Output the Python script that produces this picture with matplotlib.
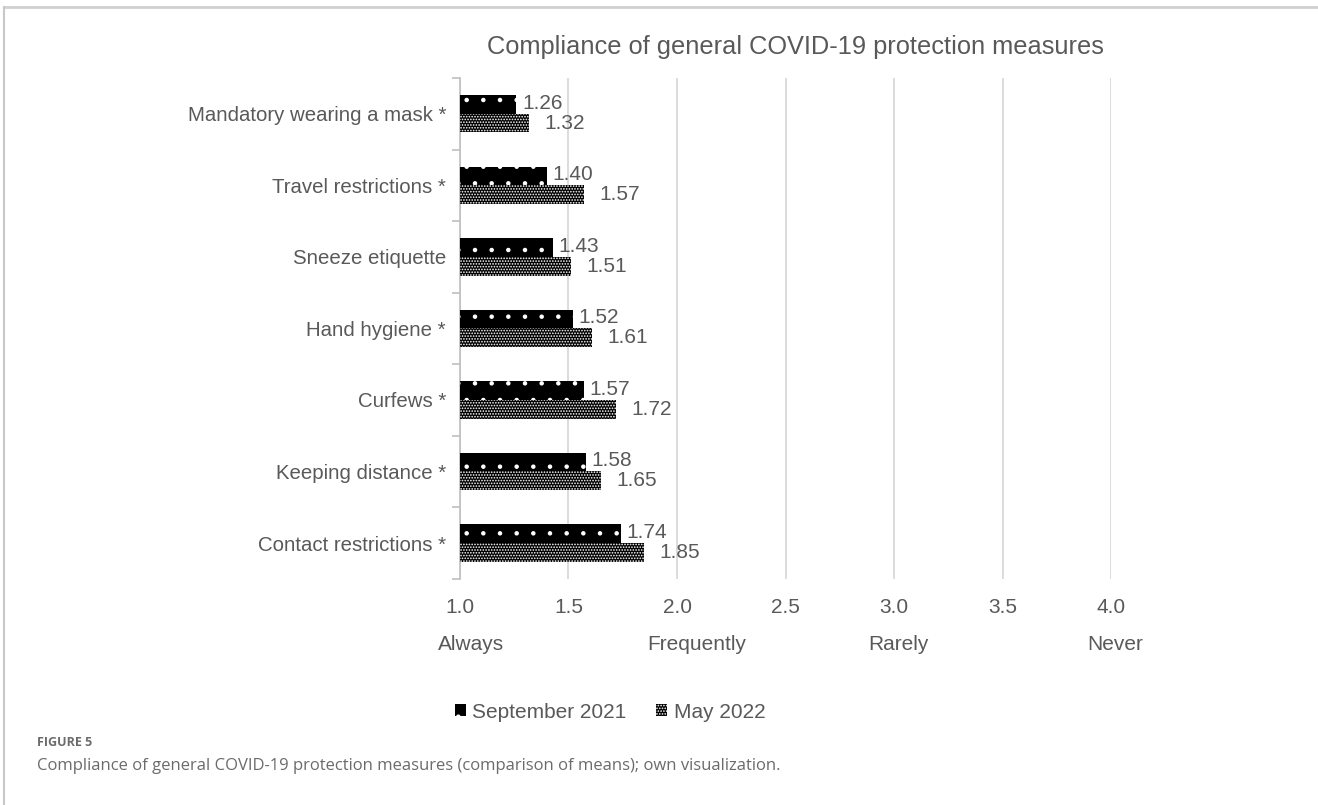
import matplotlib
matplotlib.use('Agg')
import matplotlib.pyplot as plt
import matplotlib.transforms as mtransforms
from matplotlib.lines import Line2D
from matplotlib.patches import Patch
import numpy as np

measures = ['Mandatory wearing a mask *', 'Travel restrictions *', 'Sneeze etiquette',
            'Hand hygiene *', 'Curfews *', 'Keeping distance *', 'Contact restrictions *']
sep_2021 = [1.26, 1.40, 1.43, 1.52, 1.57, 1.58, 1.74]
may_2022 = [1.32, 1.57, 1.51, 1.61, 1.72, 1.65, 1.85]
x_ticks = [1.0, 1.5, 2.0, 2.5, 3.0, 3.5, 4.0]
scale_pos = [1.05, 2.09, 3.02, 4.02]
scale_names = ['Always', 'Frequently', 'Rarely', 'Never']

TXT = '#595959'
GRID = '#d9d9d9'

plt.rcParams['font.family'] = ['Liberation Sans', 'DejaVu Sans']
plt.rcParams['hatch.linewidth'] = 0.8

fig = plt.figure(figsize=(13.18, 8.05), dpi=100)
ax = fig.add_axes([0.349, 0.281, 0.494, 0.622])

y = np.arange(len(measures))
h = 0.26
base = 1.0
ax.barh(y - h / 2, np.array(sep_2021) - base, left=base, height=h,
        color='black', edgecolor='white', linewidth=0, hatch='.', zorder=3)
ax.barh(y + h / 2, np.array(may_2022) - base, left=base, height=h,
        color='black', edgecolor='white', linewidth=0, hatch='......', zorder=3)

for yi, v in zip(y, sep_2021):
    ax.annotate(f'{v:.2f}', (v, yi - h / 2), xytext=(4, 1), textcoords='offset points',
                va='center', ha='left', fontsize=15, color=TXT)
for yi, v in zip(y, may_2022):
    ax.annotate(f'{v:.2f}', (v, yi + h / 2), xytext=(11, 0), textcoords='offset points',
                va='center', ha='left', fontsize=15, color=TXT)

ax.set_xlim(1.0, 4.0)
ax.set_ylim(len(measures) - 0.5, -0.5)
ax.set_xticks(x_ticks)
ax.set_xticklabels([f'{t:.1f}' for t in x_ticks], fontsize=15, color=TXT)
ax.set_yticks(y)
ax.set_yticklabels(measures, fontsize=14.7, color=TXT)
ax.set_yticks(np.arange(-0.5, len(measures)), minor=True)
ax.tick_params(axis='y', which='major', length=0, pad=10)
ax.tick_params(axis='y', which='minor', length=6, color='#bfbfbf', width=1.2)
ax.tick_params(axis='x', length=0, pad=14)
ax.grid(axis='x', color=GRID, linewidth=1.3, zorder=0)
for s in ['top', 'right', 'bottom']:
    ax.spines[s].set_visible(False)
ax.spines['left'].set_color('#bfbfbf')
ax.spines['left'].set_linewidth(1.2)

trans = mtransforms.blended_transform_factory(ax.transData, fig.transFigure)
for xp, name in zip(scale_pos, scale_names):
    fig.text(xp, 1 - 645 / 805, name, transform=trans, ha='center', va='center',
             fontsize=15, color=TXT)

fig.text(795 / 1318, 1 - 47 / 805, 'Compliance of general COVID-19 protection measures',
         ha='center', va='center', fontsize=18.3, color=TXT)

handles = [Patch(facecolor='black', edgecolor='white', linewidth=0, hatch='.'),
           Patch(facecolor='black', edgecolor='white', linewidth=0, hatch='......')]
fig.legend(handles, ['September 2021', 'May 2022'], loc='center',
           bbox_to_anchor=(610 / 1318, 1 - 712 / 805), ncol=2, frameon=False,
           fontsize=15, labelcolor=TXT, handlelength=0.55, handleheight=0.45,
           handletextpad=0.3, columnspacing=1.4)

# figure frame and caption
fig.add_artist(Line2D([4 / 1318, 1], [1 - 7 / 805] * 2, color='#d0d0d0', linewidth=2))
fig.add_artist(Line2D([4 / 1318] * 2, [0, 1 - 7 / 805], color='#c8c8c8', linewidth=1.5))
fig.text(37 / 1318, 1 - 742 / 805, 'FIGURE 5', ha='left', va='center', fontsize=9,
         fontweight='bold', color='#6b6b6b', family=['Open Sans', 'DejaVu Sans'])
fig.text(37 / 1318, 1 - 766 / 805,
         'Compliance of general COVID-19 protection measures (comparison of means); own visualization.',
         ha='left', va='center', fontsize=12, color='#6b6b6b', family=['Open Sans', 'DejaVu Sans'])

fig.savefig('out.png', dpi=100)
